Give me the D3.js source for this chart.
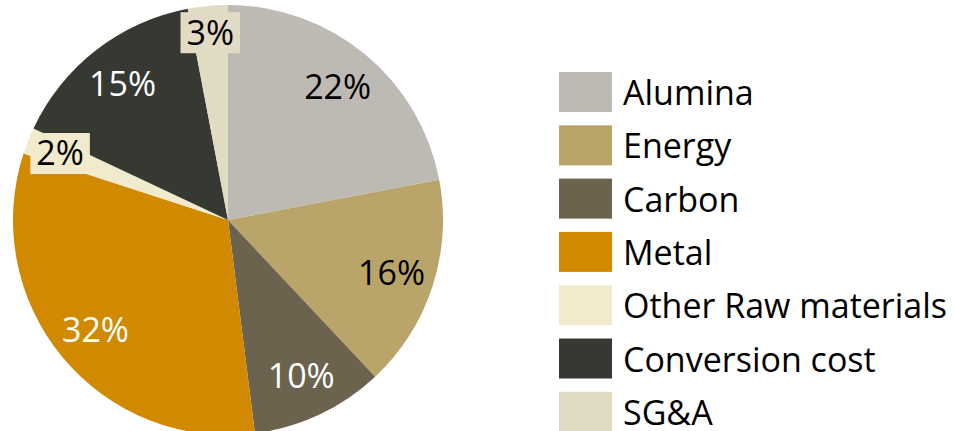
<!DOCTYPE html>
<html>
<head>
<meta charset="utf-8">
<script src="https://cdn.jsdelivr.net/npm/d3@7/dist/d3.min.js"></script>
<style>
  html, body { margin: 0; padding: 0; background: #fff; }
  svg { display: block; }
  text { font-family: "Open Sans", "Noto Sans", sans-serif; }
</style>
</head>
<body>
<svg id="chart" width="954" height="431"></svg>
<script>
// Cost breakdown shares (percent), in clockwise order from 12 o'clock
const categories = ["Alumina", "Energy", "Carbon", "Metal", "Other Raw materials", "Conversion cost", "SG&A"];
const shares = [22, 16, 10, 32, 2, 15, 3];
const colors = ["#bdbab4", "#b9a46a", "#6b634e", "#d18a00", "#f1eacd", "#363832", "#e2dbc4"];
const labelColors = ["#000", "#000", "#fff", "#fff", "#000", "#fff", "#000"];
const boxedLabels = [false, false, false, false, true, false, true];

const svg = d3.select("#chart");
const cx = 228, cy = 220, R = 215;
const fontSize = 34;

const pie = d3.pie().sort(null).value(d => d.value);
const data = categories.map((c, i) => ({ name: c, value: shares[i], color: colors[i], lc: labelColors[i], boxed: boxedLabels[i] }));
const arcs = pie(data);

const arc = d3.arc().innerRadius(0).outerRadius(R);

// Labels sit at 80% of the radius; the boxed labels of thin slices move further out
function labelRadius(d) {
  if (!d.data.boxed) return R * 0.8;
  return d.index === arcs.length - 1 ? R * 0.875 : R * 0.84;
}

const g = svg.append("g").attr("transform", `translate(${cx},${cy})`);

g.selectAll("path.slice")
  .data(arcs)
  .join("path")
  .attr("class", "slice")
  .attr("d", arc)
  .attr("fill", d => d.data.color);

const labels = g.selectAll("g.lbl")
  .data(arcs)
  .join("g")
  .attr("class", "lbl")
  .attr("transform", d => {
    const r = labelRadius(d);
    const [x, y] = d3.arc().innerRadius(r).outerRadius(r).centroid(d);
    return `translate(${x},${y})`;
  });

labels.each(function(d) {
  const sel = d3.select(this);
  const t = sel.append("text")
    .attr("text-anchor", "middle")
    .attr("dy", "0.35em")
    .attr("font-size", fontSize)
    .attr("fill", d.data.lc)
    .text(d.data.value + "%");
  if (d.data.boxed) {
    const b = t.node().getBBox();
    const padX = 6;
    sel.insert("rect", "text")
      .attr("x", b.x - padX)
      .attr("y", -20.5)
      .attr("width", b.width + 2 * padX)
      .attr("height", 41)
      .attr("fill", d.data.color);
  }
});

// Legend
const legend = svg.append("g").attr("transform", "translate(559,72)");
const rowH = 53.3;
const items = legend.selectAll("g.item")
  .data(data)
  .join("g")
  .attr("class", "item")
  .attr("transform", (d, i) => `translate(0,${i * rowH})`);

items.append("rect")
  .attr("width", 53)
  .attr("height", 40)
  .attr("fill", d => d.color);

items.append("text")
  .attr("x", 64)
  .attr("y", 33)
  .attr("font-size", fontSize)
  .attr("fill", "#000")
  .text(d => d.name);
</script>
</body>
</html>
